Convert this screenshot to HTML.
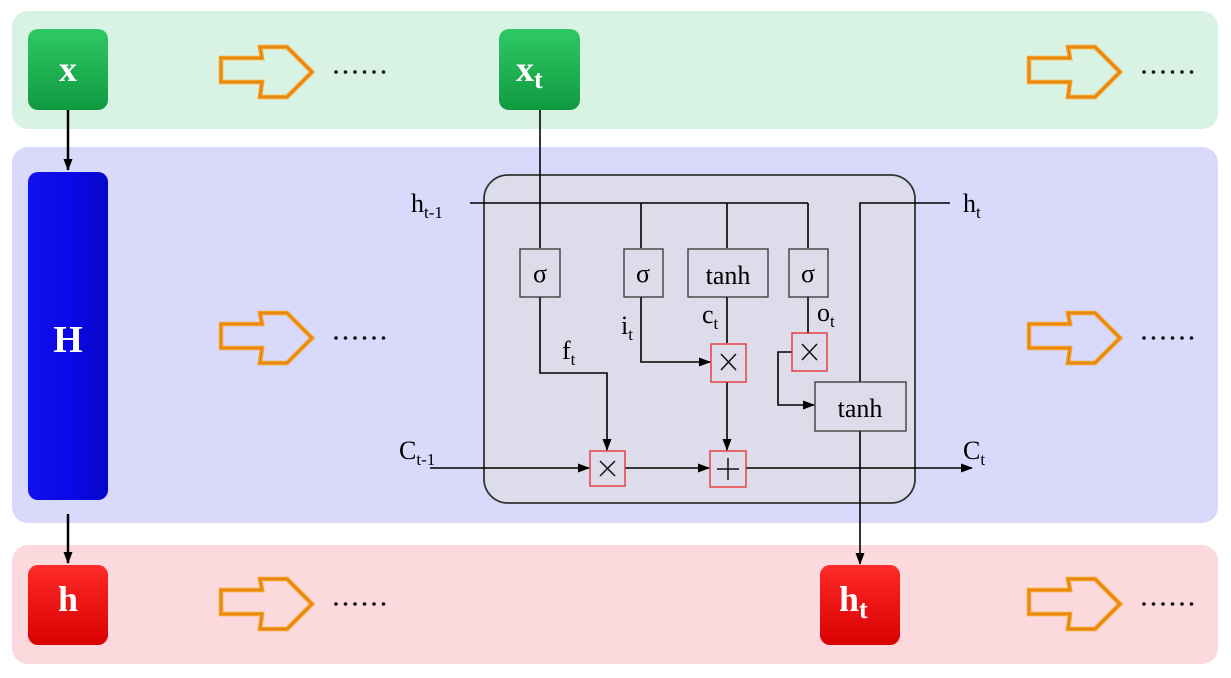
<!DOCTYPE html>
<html><head><meta charset="utf-8"><style>
html,body{margin:0;padding:0;background:#fff;}
svg{display:block;font-family:"Liberation Serif",serif;}
</style></head><body>
<svg width="1231" height="678" viewBox="0 0 1231 678" xmlns="http://www.w3.org/2000/svg">
<defs>
<linearGradient id="gg" x1="0" y1="0" x2="0" y2="1"><stop offset="0" stop-color="#2fc865"/><stop offset="1" stop-color="#109a40"/></linearGradient>
<linearGradient id="gr" x1="0" y1="0" x2="0" y2="1"><stop offset="0" stop-color="#ff2a2a"/><stop offset="1" stop-color="#d80000"/></linearGradient>
<linearGradient id="gb" x1="0" y1="0" x2="1" y2="0"><stop offset="0" stop-color="#1010f0"/><stop offset="0.5" stop-color="#0a0ae8"/><stop offset="1" stop-color="#0606c8"/></linearGradient>
<marker id="ar" markerWidth="12" markerHeight="12" refX="11" refY="6" orient="auto" markerUnits="userSpaceOnUse"><path d="M0,1.5 L12,6 L0,10.5 z" fill="#000"/></marker>
<g id="oa"><polygon points="221,324 262,324 260,313 287,313 312,338 287,363 260,363 262,348 221,348" fill="none" stroke="#f3a020" stroke-width="4.5" stroke-linejoin="miter"/>
<polygon points="221,324 262,324 260,313 287,313 312,338 287,363 260,363 262,348 221,348" fill="none" stroke="#e07810" stroke-width="1.2"/>
<g fill="#111"><circle cx="336" cy="338" r="1.8"/><circle cx="345.5" cy="338" r="1.8"/><circle cx="355" cy="338" r="1.8"/><circle cx="364.5" cy="338" r="1.8"/><circle cx="374" cy="338" r="1.8"/><circle cx="383.5" cy="338" r="1.8"/></g></g>
</defs>
<rect x="12" y="11" width="1206" height="118" rx="16" fill="#d8f2e4"/>
<rect x="12" y="147" width="1206" height="376" rx="16" fill="#d9d9fb"/>
<rect x="12" y="545" width="1206" height="119" rx="16" fill="#fcd9dc"/>

<use href="#oa" transform="translate(0,-266)"/>
<use href="#oa" transform="translate(808,-266)"/>
<use href="#oa"/>
<use href="#oa" transform="translate(808,0)"/>
<use href="#oa" transform="translate(0,266)"/>
<use href="#oa" transform="translate(808,266)"/>

<rect x="28" y="29" width="80" height="81" rx="10" fill="url(#gg)"/>
<text x="68" y="81" font-size="36" font-weight="bold" fill="#fff" text-anchor="middle">x</text>
<rect x="499" y="29" width="81" height="81" rx="10" fill="url(#gg)"/>
<text x="516" y="81" font-size="36" font-weight="bold" fill="#fff">x<tspan font-size="26" dy="7">t</tspan></text>
<rect x="28" y="172" width="80" height="328" rx="10" fill="url(#gb)"/>
<text x="68" y="352" font-size="38" font-weight="bold" fill="#fff" text-anchor="middle">H</text>
<rect x="28" y="565" width="80" height="80" rx="10" fill="url(#gr)"/>
<text x="68" y="611" font-size="36" font-weight="bold" fill="#fff" text-anchor="middle">h</text>
<rect x="820" y="565" width="80" height="80" rx="10" fill="url(#gr)"/>
<text x="839" y="611" font-size="36" font-weight="bold" fill="#fff">h<tspan font-size="26" dy="7">t</tspan></text>

<g stroke="#000" stroke-width="2.5"><line x1="68" y1="110" x2="68" y2="170" marker-end="url(#ar)"/><line x1="68" y1="514" x2="68" y2="563" marker-end="url(#ar)"/></g>

<rect x="484" y="175" width="431" height="328" rx="24" fill="#dcdcea" stroke="#333" stroke-width="1.8"/>

<g stroke="#000" stroke-width="1.6" fill="none">
<line x1="470" y1="203" x2="808" y2="203"/>
<line x1="641" y1="203" x2="641" y2="248"/><line x1="727" y1="203" x2="727" y2="248"/><line x1="808" y1="203" x2="808" y2="248"/>
<line x1="540" y1="110" x2="540" y2="248"/>
<polyline points="950,203 860,203 860,382"/>
<line x1="860" y1="431" x2="860" y2="564" marker-end="url(#ar)"/>
<polyline points="540,297 540,373 607,373 607,450" marker-end="url(#ar)"/>
<line x1="430" y1="468" x2="589" y2="468" marker-end="url(#ar)"/>
<line x1="625" y1="468" x2="709" y2="468" marker-end="url(#ar)"/>
<line x1="746" y1="468" x2="972" y2="468" marker-end="url(#ar)"/>
<polyline points="641,297 641,362 710,362" marker-end="url(#ar)"/>
<line x1="727" y1="297" x2="727" y2="343"/>
<line x1="727" y1="382" x2="727" y2="450" marker-end="url(#ar)"/>
<line x1="808" y1="297" x2="808" y2="333"/>
<polyline points="792,352 778,352 778,405 814,405" marker-end="url(#ar)"/>
</g>

<g fill="#dcdcea" stroke="#333" stroke-width="1.3">
<rect x="520" y="249" width="40" height="48"/><rect x="624" y="249" width="39" height="48"/>
<rect x="688" y="249" width="80" height="48"/><rect x="789" y="249" width="39" height="48"/>
<rect x="815" y="382" width="91" height="49"/>
</g>
<g fill="#dcdcea" stroke="#e8282c" stroke-width="1.3">
<rect x="590" y="451" width="35" height="35"/><rect x="710" y="451" width="36" height="36"/>
<rect x="711" y="344" width="35" height="38"/><rect x="792" y="333" width="35" height="38"/>
</g>
<g stroke="#111" stroke-width="1.5">
<path d="M600,461 L615,476 M615,461 L600,476"/>
<path d="M721,354 L736,370 M736,354 L721,370"/>
<path d="M802,344 L817,360 M817,344 L802,360"/>
<path d="M728,458 L728,480 M717,469 L739,469"/>
</g>
<g font-size="26" fill="#000" text-anchor="middle">
<text x="540" y="282">σ</text><text x="643" y="282">σ</text><text x="728" y="284">tanh</text><text x="808" y="282">σ</text>
<text x="860" y="417">tanh</text>
</g>
<g font-size="26" fill="#000">
<text x="411" y="212">h<tspan font-size="17" dy="6">t-1</tspan></text>
<text x="963" y="212">h<tspan font-size="17" dy="6">t</tspan></text>
<text x="399" y="459">C<tspan font-size="17" dy="6">t-1</tspan></text>
<text x="963" y="459">C<tspan font-size="17" dy="6">t</tspan></text>
<text x="562" y="359">f<tspan font-size="17" dy="6">t</tspan></text>
<text x="621" y="334">i<tspan font-size="17" dy="6">t</tspan></text>
<text x="702" y="323">c<tspan font-size="17" dy="6">t</tspan></text>
<text x="817" y="321">o<tspan font-size="17" dy="6">t</tspan></text>
</g>
</svg>
</body></html>
